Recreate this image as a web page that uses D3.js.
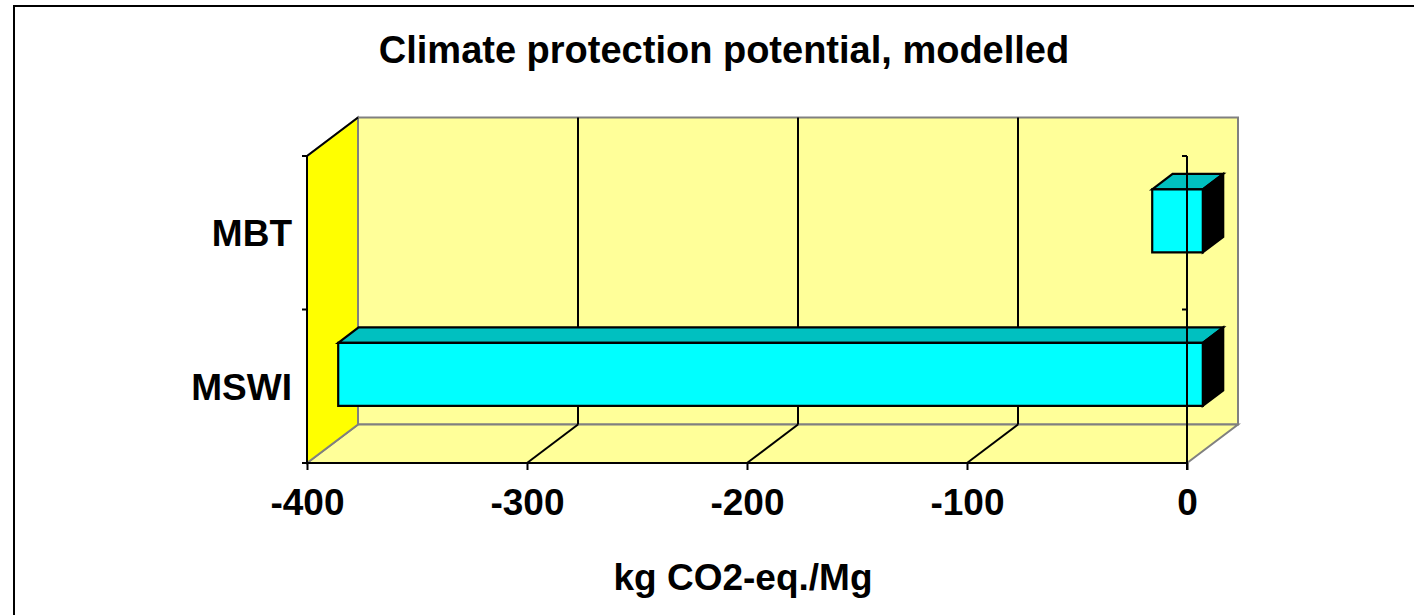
<!DOCTYPE html>
<html>
<head>
<meta charset="utf-8">
<script src="https://cdn.jsdelivr.net/npm/d3@7"></script>
<style>
  html, body { margin: 0; padding: 0; background: #fff; }
  svg { display: block; font-family: Arial, "Liberation Sans", sans-serif; font-weight: bold; }
</style>
</head>
<body>
<svg id="chart" width="1414" height="615"></svg>
<script>
// ---- data ----
const categories = ["MBT", "MSWI"];
const values = [-23, -393];
const xTicks = [-400, -300, -200, -100, 0];
const titleText = "Climate protection potential, modelled";
const xAxisTitle = "kg CO2-eq./Mg";

(function () {
// ---- layout ----
const W = 1414, H = 615;
const pLeft = 307, pRight = 1187, pTop = 156, pBottom = 463;
const DX = 51, DY = -38.5;        // 3D depth offset
const f0 = 0.31, f1 = 0.71;       // bar depth fraction (front / back)

const svg = d3.select("#chart");

// outer frame
svg.append("rect").attr("x", 14).attr("y", 6).attr("width", W + 20).attr("height", H + 20)
  .attr("fill", "#fff").attr("stroke", "#000").attr("stroke-width", 2);

const x = d3.scaleLinear().domain([-400, 0]).range([pLeft, pRight]);
const y = d3.scaleBand().domain(categories).range([pTop, pBottom])
  .paddingInner(0.59).paddingOuter(0.295);
const yStep = (pBottom - pTop) / categories.length;

const g = svg.append("g");
const pt = (px, py, f) => [px + f * DX, py + f * DY];
const poly = pts => pts.map(p => p.join(",")).join(" ");

// back wall
g.append("polygon")
  .attr("points", poly([pt(pLeft, pTop, 1), pt(pRight, pTop, 1), pt(pRight, pBottom, 1), pt(pLeft, pBottom, 1)]))
  .attr("fill", "#FFFF99").attr("stroke", "#808080").attr("stroke-width", 2);
// floor
g.append("polygon")
  .attr("points", poly([[pLeft, pBottom], [pRight, pBottom], pt(pRight, pBottom, 1), pt(pLeft, pBottom, 1)]))
  .attr("fill", "#FFFF99").attr("stroke", "#808080").attr("stroke-width", 2);
// side wall
g.append("polygon")
  .attr("points", poly([[pLeft, pTop], pt(pLeft, pTop, 1), pt(pLeft, pBottom, 1), [pLeft, pBottom]]))
  .attr("fill", "#FFFF00").attr("stroke", "#808080").attr("stroke-width", 2);
g.append("line")
  .attr("x1", pLeft).attr("y1", pTop).attr("x2", pLeft + DX).attr("y2", pTop + DY)
  .attr("stroke", "#000").attr("stroke-width", 2);

// gridlines
const inner = xTicks.filter(v => v !== -400 && v !== 0);
inner.forEach(v => {
  const [bx, by] = pt(x(v), pBottom, 1);
  g.append("line").attr("x1", x(v)).attr("y1", pBottom).attr("x2", bx).attr("y2", by)
    .attr("stroke", "#000").attr("stroke-width", 2);
  g.append("line").attr("x1", bx).attr("y1", pTop + DY).attr("x2", bx).attr("y2", by)
    .attr("stroke", "#000").attr("stroke-width", 2);
});

// bars
categories.forEach((c, i) => {
  const v = values[i];
  const x1 = x(v), x2 = x(0);
  const y1 = y(c), y2 = y(c) + y.bandwidth();
  const A = pt(x1, y1, f0), B = pt(x2, y1, f0), C = pt(x2, y2, f0), D = pt(x1, y2, f0);
  const Ab = pt(x1, y1, f1), Bb = pt(x2, y1, f1), Cb = pt(x2, y2, f1);
  const bg = g.append("g").attr("stroke", "#000").attr("stroke-width", 2.2).attr("stroke-linejoin", "miter");
  bg.append("polygon").attr("points", poly([A, B, Bb, Ab])).attr("fill", "#00C0C0");
  bg.append("polygon").attr("points", poly([B, Bb, Cb, C])).attr("fill", "#000");
  bg.append("polygon").attr("points", poly([A, B, C, D])).attr("fill", "#00FFFF");
});

// x axis
const xAxis = d3.axisBottom(x).tickValues(xTicks).tickSize(7).tickPadding(19)
  .tickFormat(d => String(d));
const xg = svg.append("g").attr("transform", `translate(0,${pBottom})`).call(xAxis);
xg.select(".domain").attr("stroke", "#000").attr("stroke-width", 2).attr("d", `M${pLeft},0H${pRight}`);
xg.selectAll(".tick line").attr("stroke", "#000").attr("stroke-width", 2);
xg.selectAll(".tick text").attr("fill", "#000").style("font-size", "37px").style("font-weight", "bold")
  .style("font-family", "Arial, 'Liberation Sans', sans-serif");

// category axis (left) - labels
const yAxis = d3.axisLeft(y).tickSize(0).tickPadding(15);
const yg = svg.append("g").attr("transform", `translate(${pLeft},0)`).call(yAxis);
yg.select(".domain").remove();
yg.selectAll(".tick text").attr("fill", "#000").style("font-size", "37px").style("font-weight", "bold")
  .style("font-family", "Arial, 'Liberation Sans', sans-serif").attr("dy", "0.36em");

// category axis lines with boundary ticks
const bounds = d3.range(categories.length + 1).map(i => pTop + i * yStep);
[pLeft, x(0)].forEach((ax, k) => {
  const lg = svg.append("g").attr("stroke", "#000").attr("stroke-width", 2);
  lg.append("line").attr("x1", ax).attr("x2", ax).attr("y1", pTop).attr("y2", k === 0 ? pBottom : pBottom + 7);
  bounds.forEach(b => lg.append("line").attr("x1", ax - 5).attr("x2", ax).attr("y1", b).attr("y2", b));
});

// titles
svg.append("text").attr("x", 724).attr("y", 63).attr("text-anchor", "middle")
  .style("font-size", "38px").text(titleText);
svg.append("text").attr("x", 743).attr("y", 590).attr("text-anchor", "middle")
  .style("font-size", "37px").text(xAxisTitle);
})();
</script>
</body>
</html>
